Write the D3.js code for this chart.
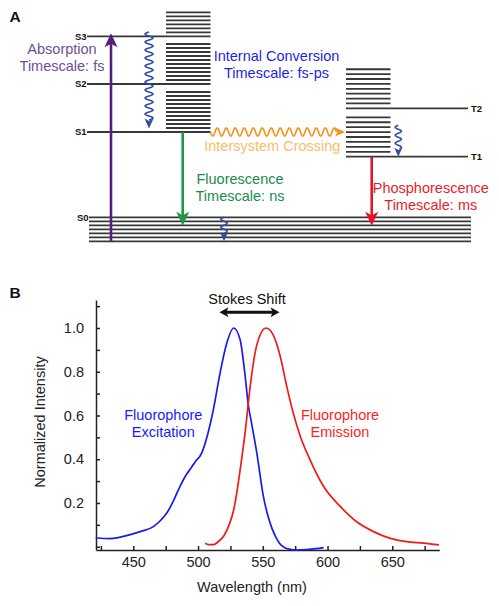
<!DOCTYPE html>
<html><head><meta charset="utf-8">
<script src="https://cdn.jsdelivr.net/npm/d3@7/dist/d3.min.js"></script>
<style>body{margin:0;background:#fff} svg{display:block} text{font-family:"Liberation Sans",Arial,Helvetica,sans-serif}</style>
</head><body><svg id="c" width="499" height="606"></svg>
<script>
// ---------- Panel B data ----------
const excitationWl  = [421, 432, 447, 456, 465.5, 471, 476, 481, 486, 491, 494, 498, 502.8, 508, 511.8, 517, 522.2, 527.5, 532.5, 536, 539, 541, 545.4, 550.5, 554, 557, 560, 563, 567, 571, 576, 584, 591, 597];
const excitationVal = [0.041, 0.037, 0.054, 0.07, 0.092, 0.12, 0.155, 0.21, 0.275, 0.33, 0.355, 0.39, 0.428, 0.527, 0.626, 0.794, 0.931, 1.0, 0.946, 0.80, 0.64, 0.575, 0.428, 0.229, 0.14, 0.085, 0.045, 0.015, -0.005, -0.012, -0.015, -0.013, -0.009, -0.004];
const emissionWl  = [505.5, 508, 512, 516, 520, 524, 527.5, 530, 532.5, 536.5, 540, 544, 548, 552.5, 558, 563.5, 568.5, 573.5, 579, 586.5, 597, 610, 622.5, 635.5, 648.5, 661, 674, 686];
const emissionVal = [0.016, 0.01, 0.01, 0.025, 0.05, 0.1, 0.168, 0.25, 0.351, 0.53, 0.72, 0.885, 0.969, 1.0, 0.969, 0.87, 0.733, 0.611, 0.504, 0.397, 0.275, 0.183, 0.114, 0.069, 0.038, 0.023, 0.016, 0.008];
const xTickLabels = [450, 500, 550, 600, 650];
const xTicksAll   = [425, 450, 475, 500, 525, 550, 575, 600, 625, 650, 675];
const yTickLabels = [0.2, 0.4, 0.6, 0.8, 1.0];
const yTicksAll   = [0, 0.1, 0.2, 0.3, 0.4, 0.5, 0.6, 0.7, 0.8, 0.9, 1.0, 1.1];

// ---------- Panel A data ----------
const levelNames  = ["S0", "S1", "S2", "S3", "T1", "T2"];
const levelEnergy = [0, 85.3, 133.3, 181, 60.6, 109];
const levelKind   = ["ground", "singlet", "singlet", "singlet", "triplet", "triplet"];
const levelVibCount = [6, 10, 10, 6, 8, 8];
const levelVibStep  = [-4, 4, 4, 4, 4.92, 4.88];

const svg = d3.select("#c");

// ================= Panel A =================
const yE = d3.scaleLinear().domain([0, 181]).range([217.3, 36.3]);
const L = {
  singletLine: [87, 210.5], singletStack: [166, 210.5],
  tripletStack: [346, 390.5], tripletLine: [346, 468],
  ground: [89, 471]
};
const lineCol = "#383838";
const gA = svg.append("g");

levelNames.forEach((name, i) => {
  const e = levelEnergy[i], kind = levelKind[i];
  let main, stack;
  if (kind === "ground") { main = L.ground; stack = L.ground; }
  else if (kind === "singlet") { main = L.singletLine; stack = L.singletStack; }
  else { main = L.tripletLine; stack = L.tripletStack; }
  gA.append("line").attr("x1", main[0]).attr("x2", main[1])
    .attr("y1", yE(e)).attr("y2", yE(e)).attr("stroke", lineCol).attr("stroke-width", 1.8);
  d3.range(1, levelVibCount[i] + 1).forEach(k => {
    const ev = e + k * levelVibStep[i];
    gA.append("line").attr("x1", stack[0]).attr("x2", stack[1])
      .attr("y1", yE(ev)).attr("y2", yE(ev)).attr("stroke", lineCol).attr("stroke-width", 1.8);
  });
  const t = gA.append("text").text(name).attr("y", yE(e)).attr("dy", "0.35em")
    .attr("font-size", 9.5).attr("font-weight", "bold").attr("fill", "#111");
  if (kind === "triplet") t.attr("x", main[1] + 3).attr("text-anchor", "start");
  else t.attr("x", main[0] - 0.5).attr("text-anchor", "end");
});

function arrowHead(g, tipX, tipY, dx, dy, len, wid, col) {
  const n = Math.hypot(dx, dy), ux = dx / n, uy = dy / n, px = -uy, py = ux;
  const bx = tipX - ux * len, by = tipY - uy * len;
  g.append("path").attr("d",
    `M${tipX},${tipY}L${bx + px * wid / 2},${by + py * wid / 2}L${bx + ux * len * 0.25},${by + uy * len * 0.25}L${bx - px * wid / 2},${by - py * wid / 2}Z`)
    .attr("fill", col);
}
function straightArrow(g, x0, y0, x1, y1, col, sw, len, wid) {
  const n = Math.hypot(x1 - x0, y1 - y0);
  const ex = x1 - (x1 - x0) / n * len * 0.7, ey = y1 - (y1 - y0) / n * len * 0.7;
  g.append("line").attr("x1", x0).attr("y1", y0).attr("x2", ex).attr("y2", ey)
    .attr("stroke", col).attr("stroke-width", sw);
  arrowHead(g, x1, y1, x1 - x0, y1 - y0, len, wid, col);
}
function wavyArrow(g, x0, y0, x1, y1, amp, wl, col, sw, len, wid) {
  const n = Math.hypot(x1 - x0, y1 - y0), ux = (x1 - x0) / n, uy = (y1 - y0) / n, px = -uy, py = ux;
  const waveLen = n - len * 0.85;
  const pts = d3.range(0, waveLen + 0.01, 0.5).map(s => {
    const o = amp * Math.sin(2 * Math.PI * s / wl);
    return [x0 + ux * s + px * o, y0 + uy * s + py * o];
  });
  g.append("path").attr("d", d3.line()(pts)).attr("fill", "none")
    .attr("stroke", col).attr("stroke-width", sw);
  arrowHead(g, x1, y1, ux, uy, len, wid, col);
}

const purple = "#551c7b", green = "#1e9847", red = "#e8132a", orange = "#f6921e", icBlue = "#2f4ea2";
// Absorption S0 -> S3
straightArrow(gA, 111, yE(-24), 111, yE(levelEnergy[3]) - 3, purple, 2.6, 14, 13);
// Internal conversion S3 -> S1
wavyArrow(gA, 149, yE(levelEnergy[3] + 4.3), 149, yE(levelEnergy[1] + 3.5), 4, 8, icBlue, 1.6, 10, 9);
// Intersystem crossing S1 -> T manifold
wavyArrow(gA, L.singletStack[1], yE(levelEnergy[1]), L.tripletStack[0] - 1, yE(levelEnergy[1]), 4, 9, orange, 1.6, 10, 9);
// Fluorescence S1 -> S0
straightArrow(gA, 182.7, yE(levelEnergy[1]), 182.7, yE(-8.5), green, 2.6, 14, 13);
// Phosphorescence T1 -> S0
straightArrow(gA, 371.7, yE(levelEnergy[4]), 371.7, yE(-8.5), red, 2.6, 14, 13);
// Vibrational relaxation in triplet manifold
wavyArrow(gA, 398.3, yE(levelEnergy[4] + 31.5), 398.3, yE(levelEnergy[4]), 3.2, 8, icBlue, 1.5, 9, 8);
// Vibrational relaxation in ground state
wavyArrow(gA, 224, yE(levelEnergy[0]), 224, yE(-24), 3.2, 8, icBlue, 1.5, 9, 8);

const fsA = 14.5;
const annotations = [
  {lines: ["Absorption", "Timescale: fs"], x: 62, y: 54.3, col: "#6c5096"},
  {lines: ["Internal Conversion", "Timescale: fs-ps"], x: 276.5, y: 61, col: "#1f1fe8"},
  {lines: ["Intersystem Crossing"], x: 272.3, y: 151, col: "#f9be66"},
  {lines: ["Fluorescence", "Timescale: ns"], x: 240, y: 184.3, col: "#1c8c4e"},
  {lines: ["Phosphorescence", "Timescale: ms"], x: 430.8, y: 193.3, col: "#ea1c2c"}
];
annotations.forEach(a => {
  a.lines.forEach((s, j) => {
    gA.append("text").text(s).attr("x", a.x).attr("y", a.y + j * 16.8)
      .attr("text-anchor", "middle").attr("font-size", fsA).attr("fill", a.col);
  });
});
svg.append("text").text("A").attr("x", 9.5).attr("y", 21.5).attr("font-size", 15.5).attr("font-weight", "bold").attr("fill", "#111");
svg.append("text").text("B").attr("x", 9.5).attr("y", 298).attr("font-size", 15.5).attr("font-weight", "bold").attr("fill", "#111");

// ================= Panel B =================
const xB = d3.scaleLinear().domain([421.2, 686.3]).range([96, 439.3]);
const yB = d3.scaleLinear().domain([-0.015, 1.128]).range([550, 300]);
const fmt = d3.format(".1f");
const axCol = "#222";

const gx = svg.append("g").attr("transform", "translate(0,550)")
  .call(d3.axisBottom(xB).tickValues(xTicksAll).tickSize(-4).tickSizeOuter(0).tickPadding(7)
    .tickFormat(d => xTickLabels.includes(d) ? d : ""));
const gy = svg.append("g").attr("transform", "translate(96,0)")
  .call(d3.axisLeft(yB).tickValues(yTicksAll).tickSize(-4).tickSizeOuter(0).tickPadding(12)
    .tickFormat(d => yTickLabels.includes(d) ? fmt(d) : ""));
[gx, gy].forEach(g => {
  g.selectAll("path,line").attr("stroke", axCol).attr("stroke-width", 1.5);
  g.selectAll("text").attr("font-size", 14.5).attr("fill", axCol)
    .attr("font-family", '"Liberation Sans",Arial,sans-serif');
});

const excData = excitationWl.map((w, i) => [w, excitationVal[i]]);
const emData = emissionWl.map((w, i) => [w, emissionVal[i]]);
const ln = d3.line().x(d => xB(d[0])).y(d => yB(d[1])).curve(d3.curveMonotoneX);
svg.append("path").attr("d", ln(excData)).attr("fill", "none").attr("stroke", "#1a1af0").attr("stroke-width", 1.7);
svg.append("path").attr("d", ln(emData)).attr("fill", "none").attr("stroke", "#f01a1a").attr("stroke-width", 1.7);

svg.append("text").text("Wavelength (nm)").attr("x", 252).attr("y", 592)
  .attr("text-anchor", "middle").attr("font-size", 14.5).attr("fill", axCol);
svg.append("text").text("Normalized Intensity")
  .attr("transform", "translate(45,422) rotate(-90)")
  .attr("text-anchor", "middle").attr("font-size", 14.5).attr("fill", axCol);

// curve labels
[["Fluorophore", "Excitation", 163.3, "#1a1aff"], ["Fluorophore", "Emission", 340, "#ff1f1f"]].forEach(c => {
  svg.append("text").text(c[0]).attr("x", c[2]).attr("y", 420).attr("text-anchor", "middle").attr("font-size", 14.5).attr("fill", c[3]);
  svg.append("text").text(c[1]).attr("x", c[2]).attr("y", 437).attr("text-anchor", "middle").attr("font-size", 14.5).attr("fill", c[3]);
});

// Stokes shift
svg.append("text").text("Stokes Shift").attr("x", 247).attr("y", 304)
  .attr("text-anchor", "middle").attr("font-size", 14.5).attr("fill", "#111");
const gS = svg.append("g");
gS.append("line").attr("x1", 226).attr("x2", 273).attr("y1", 312.3).attr("y2", 312.3).attr("stroke", "#111").attr("stroke-width", 3);
arrowHead(gS, 219.5, 312.3, -1, 0, 9, 10, "#111");
arrowHead(gS, 279.5, 312.3, 1, 0, 9, 10, "#111");
</script></body></html>
